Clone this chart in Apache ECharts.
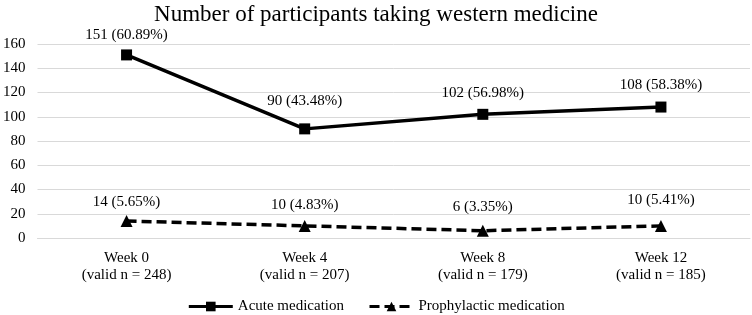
<!DOCTYPE html>
<html lang="en">
<head>
    <meta charset="UTF-8">
    <title>Western medicine</title>
    <style>
        html,body{
            width: 100%;
            height: 100%;
            margin: 0;
            padding: 0;
            background: #fff;
        }
    </style>
</head>
<body>
<div id="main" style="width: 752px;height:315px;"></div>

<script src="https://cdn.jsdelivr.net/npm/echarts@6/dist/echarts.min.js"></script>
<script>
    var weeks = ['Week 0', 'Week 4', 'Week 8', 'Week 12'];
    var validN = [248, 207, 179, 185];
    var acute = [151, 90, 102, 108];
    var acutePct = ['60.89', '43.48', '56.98', '58.38'];
    var prophy = [14, 10, 6, 10];
    var prophyPct = ['5.65', '4.83', '3.35', '5.41'];

    var font = 'Liberation Serif, Times New Roman, serif';
    var myChart = echarts.init(document.getElementById('main'));

    // x labels in two lines
    var xLabels = weeks.map(function (w, i) {
        return w + '\n(valid n = ' + validN[i] + ')';
    });

    // label offsets picked to sit like in the original
    var acuteDist = [7, 15, 8, 9];
    var prophyDist = [5, 7, 10, 12];

    function withLabel(vals, dist) {
        return vals.map(function (v, i) {
            return {value: v, label: {distance: dist[i]}};
        });
    }

    myChart.setOption({
        backgroundColor: '#fff',
        animation: false,
        title: {
            text: 'Number of participants taking western medicine',
            left: 'center',
            top: -2,
            textStyle: {fontFamily: font, fontSize: 23, fontWeight: 'normal', color: '#000'}
        },
        legend: {
            bottom: -4,
            left: 'center',
            itemWidth: 44,
            itemHeight: 12,
            itemGap: 24,
            lineStyle: {width: 3},
            textStyle: {fontFamily: font, fontSize: 15, color: '#000'},
            data: ['Acute medication', 'Prophylactic medication']
        },
        grid: {left: 35, right: 2, top: 44, bottom: 77},
        xAxis: {
            type: 'category',
            data: xLabels,
            boundaryGap: true,
            axisLine: {lineStyle: {color: '#d9d9d9'}},
            axisTick: {show: false},
            axisLabel: {fontFamily: font, fontSize: 15, color: '#000', lineHeight: 17, margin: 12}
        },
        yAxis: {
            type: 'value',
            min: 0,
            max: 160,
            interval: 20,
            axisLine: {show: false},
            axisTick: {show: false},
            splitLine: {lineStyle: {color: '#d9d9d9', width: 1}},
            axisLabel: {fontFamily: font, fontSize: 15, color: '#000', margin: 12}
        },
        series: [
            {
                name: 'Acute medication',
                type: 'line',
                data: withLabel(acute, acuteDist),
                symbol: 'rect',
                symbolSize: 11,
                itemStyle: {color: '#000'},
                lineStyle: {color: '#000', width: 3.5},
                label: {
                    show: true,
                    position: 'top',
                    fontFamily: font,
                    fontSize: 15,
                    color: '#000',
                    formatter: function (p) {
                        return p.value + ' (' + acutePct[p.dataIndex] + '%)';
                    }
                }
            },
            {
                name: 'Prophylactic medication',
                type: 'line',
                data: withLabel(prophy, prophyDist),
                symbol: 'triangle',
                symbolSize: 12,
                itemStyle: {color: '#000'},
                lineStyle: {color: '#000', width: 3.5, type: [10, 5]},
                label: {
                    show: true,
                    position: 'top',
                    fontFamily: font,
                    fontSize: 15,
                    color: '#000',
                    formatter: function (p) {
                        return p.value + ' (' + prophyPct[p.dataIndex] + '%)';
                    }
                }
            }
        ]
    });
</script>
</body>
</html>
